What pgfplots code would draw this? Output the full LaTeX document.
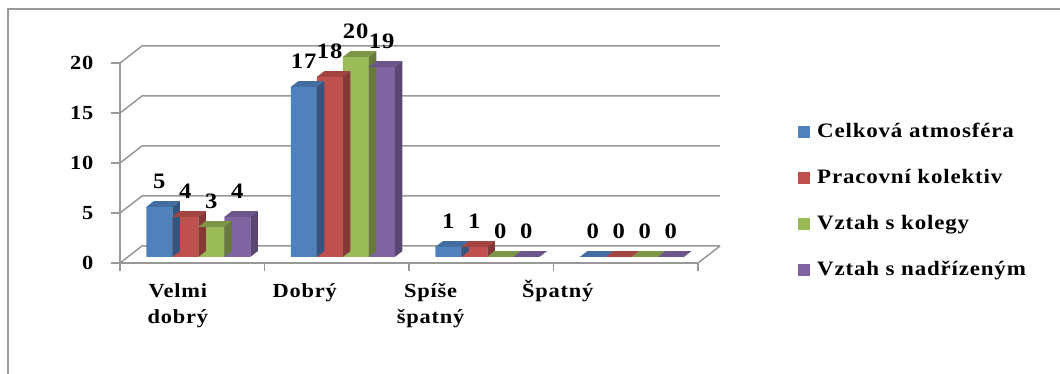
\documentclass[border=0pt]{standalone}
\usepackage{pgfplots}
\usepackage{pgfplotstable}
\pgfplotsset{compat=1.18}
\usepackage{fontspec}
\setmainfont{Liberation Serif}[FakeStretch=1.12, LetterSpace=4]

\definecolor{cA}{HTML}{4F81BD}
\definecolor{cB}{HTML}{C0504D}
\definecolor{cC}{HTML}{9BBB59}
\definecolor{cD}{HTML}{8064A2}
\colorlet{cAtop}{cA!85!black}\colorlet{cAside}{cA!66!black}
\colorlet{cBtop}{cB!85!black}\colorlet{cBside}{cB!70!black}
\colorlet{cCtop}{cC!80!black}\colorlet{cCside}{cC!66!black}
\colorlet{cDtop}{cD!85!black}\colorlet{cDside}{cD!70!black}
\definecolor{gridgray}{HTML}{989898}

% top face and right side face of a 3D bar; \barv is the value of the bar
% #1 mark name, #2 horizontal offset of the bar, #3 top colour, #4 side colour
\newcommand\declarebarcap[4]{%
  \pgfdeclareplotmark{#1}{%
    \pgfsetfillcolor{#3}%
    \pgfpathmoveto{\pgfpoint{#2-13pt}{0pt}}%
    \pgfpathlineto{\pgfpoint{#2+13pt}{0pt}}%
    \pgfpathlineto{\pgfpoint{#2+20.5pt}{5.8pt}}%
    \pgfpathlineto{\pgfpoint{#2-5.5pt}{5.8pt}}%
    \pgfpathclose\pgfusepath{fill}%
    \pgfsetfillcolor{#4}%
    \pgfpathmoveto{\pgfpoint{#2+13pt}{0pt}}%
    \pgfpathlineto{\pgfpoint{#2+20.5pt}{5.8pt}}%
    \pgfpathlineto{\pgfpoint{#2+20.5pt}{5.8pt-\barv*10pt}}%
    \pgfpathlineto{\pgfpoint{#2+13pt}{-\barv*10pt}}%
    \pgfpathclose\pgfusepath{fill}%
  }}
\declarebarcap{capA}{-33pt}{cAtop}{cAside}
\declarebarcap{capB}{-7pt}{cBtop}{cBside}
\declarebarcap{capC}{19pt}{cCtop}{cCside}
\declarebarcap{capD}{45pt}{cDtop}{cDside}

\pgfplotstableread{
x A  B  C  D
0 5  4  3  4
1 17 18 20 19
2 1  1  0  0
3 0  0  0  0
}\ratings

\pgfplotsset{
  front/.style n args={2}{ybar, bar width=26pt, bar shift=#1, fill=#2, draw=none,
    legend image code/.code={\fill[#2] (0pt,-6pt) rectangle (12pt,6pt);}},
  cap/.style n args={2}{scatter, only marks, mark=#1, forget plot,
    visualization depends on={rawy \as \barv},
    nodes near coords,
    every node near coord/.append style={font=\fontsize{22}{26}\selectfont\bfseries,
      text=black, anchor=south, inner sep=0pt, xshift=#2, yshift=18pt}},
}

\begin{document}
\begin{tikzpicture}
\useasboundingbox (-120pt,-111pt) rectangle (940pt,263pt);
\draw[gray!85!black!70, line width=1.5pt] (-112pt,254pt) rectangle (980pt,-140pt);
\begin{axis}[
  at={(0pt,0pt)}, anchor=south west,
  scale only axis, width=578pt, height=200pt,
  clip=false,
  xmin=-0.5, xmax=3.5, ymin=-0.6, ymax=19.4,
  axis x line*=bottom, axis y line*=left,
  axis line style={gridgray, line width=1.5pt},
  tick style={gridgray, line width=1.5pt},
  tick align=outside, major tick length=8.5pt,
  /pgf/number format/assume math mode=true,
  tick label style={font=\fontsize{20}{26}\selectfont\bfseries},
  ytick={-0.6,4.4,9.4,14.4,19.4},
  yticklabels={0,5,10,15,20},
  yticklabel style={anchor=base east, inner sep=0pt, xshift=-18pt, yshift=-7pt},
  xtick={-0.5,0.5,1.5,2.5,3.5}, xticklabels={},
  extra x ticks={-0.1,0.778,1.65,2.53},
  extra x tick labels={{\rule{0pt}{19pt}Velmi\\dobrý},{\rule{0pt}{19pt}Dobrý},
    {\rule{0pt}{19pt}Spíše\\špatný},{\rule{0pt}{19pt}Špatný}},
  extra x tick style={major tick length=0pt,
    xticklabel style={align=center, anchor=north, inner sep=0pt, yshift=-15pt}},
  legend style={at={(axis description cs:1.173,0.705)}, anchor=north west,
    draw=none, fill=none, inner sep=0pt, row sep=26pt,
    font=\fontsize{20.5}{24}\selectfont\bfseries,
    nodes={inner sep=0pt, text height=15pt, text depth=5pt},
    /tikz/every odd column/.append style={column sep=7pt}},
  legend cell align=left,
]
% back wall and its joins to the front axis
\pgfplotsinvokeforeach{-0.6,4.4,9.4,14.4,19.4}{
  \draw[gridgray, line width=1.5pt] (axis cs:-0.5,#1) -- ++(22pt,17pt)
    -- ([shift={(22pt,17pt)}]axis cs:3.5,#1);
}
\draw[gridgray, line width=1.5pt] (axis cs:3.5,-0.6) -- ++(22pt,17pt);

\addplot[front={-33pt}{cA}] table[x=x,y=A]{\ratings};
\addplot[cap={capA}{-33pt}] table[x=x,y=A]{\ratings};
\addplot[front={-7pt}{cB}] table[x=x,y=B]{\ratings};
\addplot[cap={capB}{-7pt}] table[x=x,y=B]{\ratings};
\addplot[front={19pt}{cC}] table[x=x,y=C]{\ratings};
\addplot[cap={capC}{19pt}] table[x=x,y=C]{\ratings};
\addplot[front={45pt}{cD}] table[x=x,y=D]{\ratings};
\addplot[cap={capD}{45pt}] table[x=x,y=D]{\ratings};
\legend{Celková atmosféra, Pracovní kolektiv, Vztah s kolegy, Vztah s nadřízeným}
\end{axis}
\end{tikzpicture}
\end{document}
